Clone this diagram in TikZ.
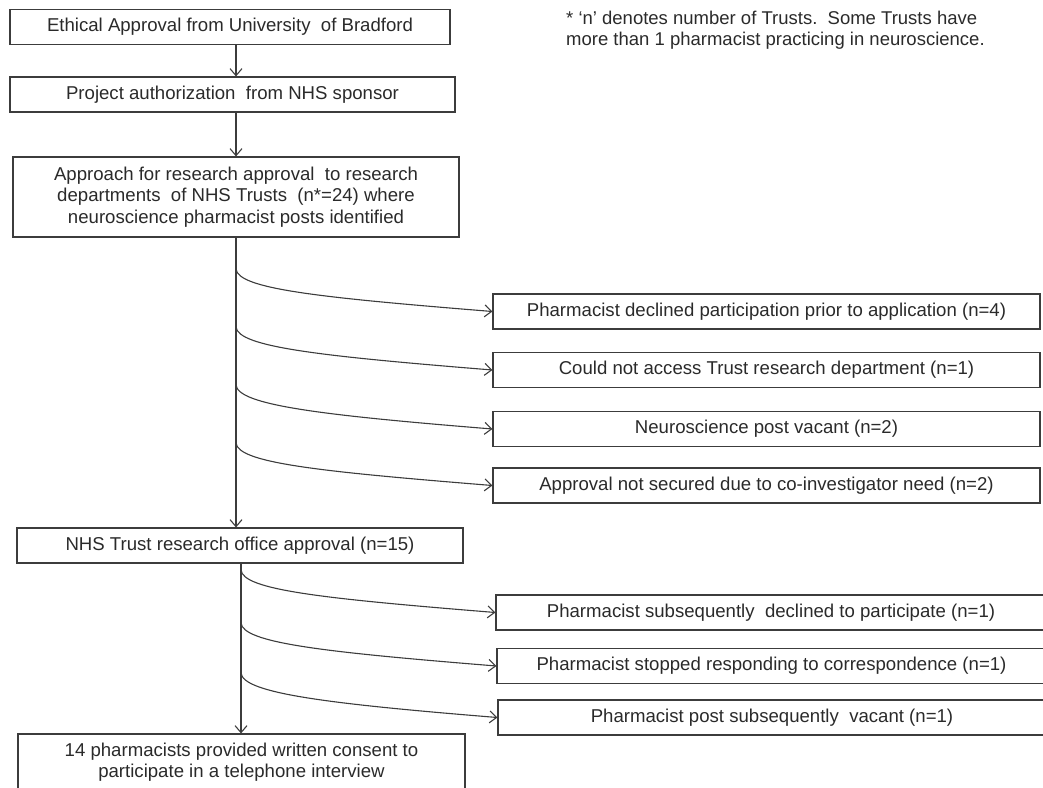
\documentclass[tikz,border=0pt]{standalone}
\usepackage{fontspec}
\setmainfont{Liberation Sans}
\usetikzlibrary{arrows.meta,positioning}

\definecolor{linegray}{HTML}{3C3C3C}
\definecolor{textgray}{HTML}{2A2A2A}

\tikzset{
  stagebox/.style={draw=linegray, line width=1.1pt, inner sep=0pt, align=center,
    minimum height=35pt, text=textgray, font=\fontsize{18.6}{21.3}\selectfont},
  exitbox/.style={stagebox, minimum width=546pt},
  branch/.style={->, linegray, line width=1.1pt},
}

\begin{document}
\begin{tikzpicture}[x=1pt, y=-1pt, >={Straight Barb[length=7pt,width=12pt]}]
    \useasboundingbox (0,0) rectangle (1043,787);

    % main stages
    \node[stagebox, minimum width=440pt] at (230,27) (ethics) {Ethical Approval from University\ \ of Bradford};
    \node[stagebox, minimum width=445pt] at (232.5,94.5) (sponsor) {Project authorization\ \ from NHS sponsor};
    \node[stagebox, minimum width=446pt, minimum height=80pt] at (236,197) (approach) {Approach for research approval\ \ to research\\departments\ \ of NHS Trusts\ \ (n*=24) where\\neuroscience pharmacist posts identified};
    \node[stagebox, minimum width=446pt] at (240,545.5) (office) {NHS Trust research office approval (n=15)};
    \node[stagebox, minimum width=447pt, minimum height=57pt] at (241.5,762.5) (consent) {14 pharmacists provided written consent to\\participate in a telephone interview};

    \node[anchor=north west, inner sep=0pt, align=left, text=textgray, font=\fontsize{18.5}{20.5}\selectfont] at (566,11) (note) {* ‘n’ denotes number of Trusts.\ \ Some Trusts have\\more than 1 pharmacist practicing in neuroscience.};

    % exits before research office approval
    \node[exitbox, minimum width=547pt] at (766.5,311.5) (declined) {Pharmacist declined participation prior to application (n=4)};
    \node[exitbox, minimum width=547pt] at (766.5,370) (noaccess) {Could not access Trust research department (n=1)};
    \node[exitbox, minimum width=547pt] at (766.5,429) (vacant) {Neuroscience post vacant (n=2)};
    \node[exitbox, minimum width=547pt] at (766.5,485.5) (coinv) {Approval not secured due to co-investigator need (n=2)};

    % exits before consent
    \node[exitbox, minimum width=550pt] at (771,612.5) (latedecline) {Pharmacist subsequently\ \ declined to participate (n=1)};
    \node[exitbox, minimum width=549pt] at (771.5,666) (noreply) {Pharmacist stopped responding to correspondence (n=1)};
    \node[exitbox, minimum width=548pt] at (772,717.5) (latevacant) {Pharmacist post subsequently\ \ vacant (n=1)};

    \coordinate (spine) at (236,0);
    \coordinate (spinelow) at (241,0);

    \draw[branch] (ethics.south -| spine) -- (sponsor.north -| spine);
    \draw[branch] (sponsor.south -| spine) -- (approach.north -| spine);
    \draw[branch] (approach.south -| spine) -- (office.north -| spine);
    \draw[branch] (office.south -| spinelow) -- (consent.north -| spinelow);

    \coordinate (b1) at (236,269);
    \coordinate (b2) at (236,327);
    \coordinate (b3) at (236,385);
    \coordinate (b4) at (236,443);
    \draw[branch] (b1) .. controls +(2,20) and +(-173,-14) .. (declined.west);
    \draw[branch] (b2) .. controls +(2,20) and +(-173,-14) .. (noaccess.west);
    \draw[branch] (b3) .. controls +(2,20) and +(-173,-14) .. (vacant.west);
    \draw[branch] (b4) .. controls +(2,20) and +(-173,-14) .. (coinv.west);

    \coordinate (c1) at (241,570);
    \coordinate (c2) at (241,623);
    \coordinate (c3) at (241,673);
    \draw[branch] (c1) .. controls +(2,20) and +(-173,-14) .. (latedecline.west);
    \draw[branch] (c2) .. controls +(2,20) and +(-173,-14) .. (noreply.west);
    \draw[branch] (c3) .. controls +(2,20) and +(-173,-14) .. (latevacant.west);
\end{tikzpicture}
\end{document}
